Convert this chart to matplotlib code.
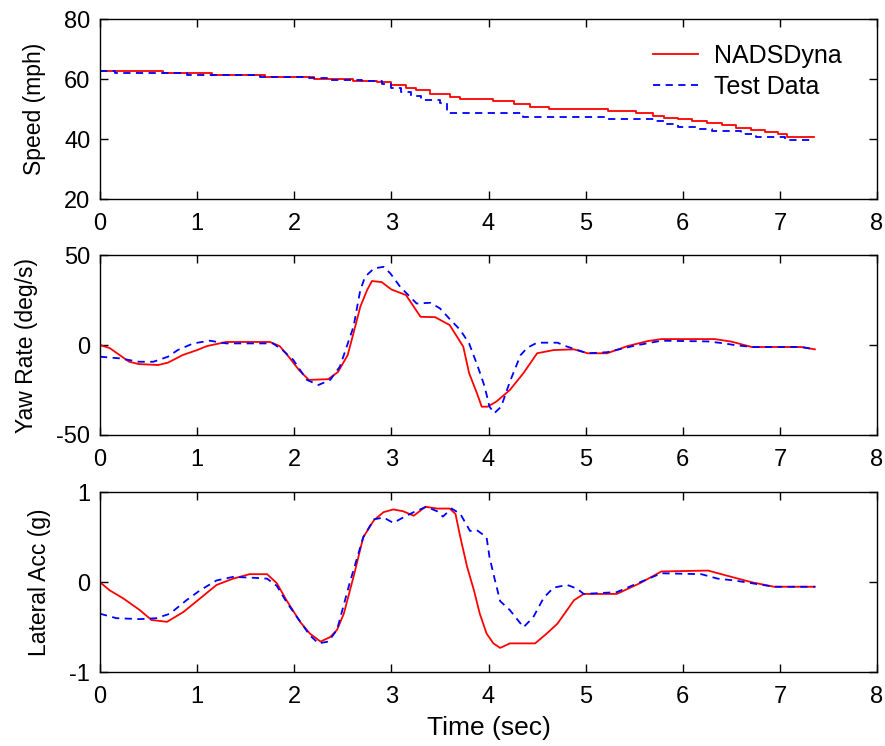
import matplotlib
matplotlib.use("Agg")
import matplotlib.pyplot as plt

plt.rcParams['font.family'] = ['Liberation Sans', 'DejaVu Sans']
plt.rcParams['axes.unicode_minus'] = False

# Speed (mph), step-like traces
spd_t_sim = [0, 0.65, 1.15, 1.7, 2.2, 2.6, 2.85, 3.0, 3.15, 3.25, 3.4, 3.6, 3.71, 4.05,
             4.26, 4.43, 4.62, 5.23, 5.52, 5.69, 5.81, 5.95, 6.1, 6.25, 6.4, 6.55, 6.7,
             6.85, 6.98, 7.07, 7.35]
spd_sim = [62.8, 62.1, 61.4, 60.8, 60.0, 59.6, 59.1, 58.2, 57.2, 56.3, 55.2, 54.1, 53.3, 52.8,
           51.9, 50.8, 50.0, 49.3, 48.6, 47.9, 47.2, 46.6, 46.0, 45.3, 44.6, 43.9, 43.2,
           42.5, 41.8, 40.7, 40.7]
spd_t_test = [0, 0.15, 0.6, 0.9, 1.2, 1.65, 2.15, 2.35, 2.7, 2.9, 3.0, 3.1, 3.2, 3.3, 3.5, 3.57,
              4.36, 5.23, 5.71, 5.83, 5.95, 6.15, 6.3, 6.6, 6.75, 7.05, 7.35]
spd_test = [62.7, 62.1, 62.0, 61.5, 61.4, 60.9, 60.5, 59.8, 59.4, 58.5, 57.0, 55.8, 54.5, 53.0, 52.0, 48.8,
            47.4, 46.7, 46.0, 45.2, 44.1, 43.4, 42.8, 41.8, 40.8, 39.7, 39.7]

# Yaw rate (deg/s)
yaw_t_sim = [0, 0.1, 0.3, 0.4, 0.6, 0.7, 0.85, 1.0, 1.1, 1.3, 1.75, 1.85, 1.95, 2.05, 2.15,
             2.35, 2.45, 2.55, 2.6, 2.68, 2.75, 2.8, 2.9, 3.0, 3.15, 3.3, 3.45, 3.6, 3.74,
             3.8, 3.88, 3.93, 3.99, 4.08, 4.22, 4.36, 4.5, 4.67, 4.88, 5.02, 5.22, 5.43,
             5.64, 5.78, 6.33, 6.5, 6.71, 7.22, 7.36]
yaw_sim = [0, -1.7, -9.3, -10.6, -11.1, -9.8, -5.6, -2.8, -0.6, 1.7, 1.7, -0.6, -7, -14, -19.4,
           -19, -15, -5.6, 4.6, 21.3, 30.6, 35.6, 35, 30.9, 27.8, 15.7, 15.5, 11.1, -0.9,
           -15.6, -26.7, -34.3, -34.3, -31.5, -25, -15.6, -4.6, -2.8, -2.4, -4.6, -4.6, -0.6,
           2.2, 3.3, 3.3, 1.9, -1.1, -1.1, -2.4]
yaw_t_test = [0, 0.2, 0.4, 0.55, 0.7, 0.8, 0.96, 1.13, 1.3, 1.78, 1.88, 1.99, 2.13, 2.25, 2.37,
              2.47, 2.54, 2.61, 2.68, 2.73, 2.82, 2.92, 2.99, 3.09, 3.26, 3.4, 3.5, 3.61, 3.71,
              3.8, 3.89, 3.96, 4.01, 4.06, 4.13, 4.22, 4.33, 4.4, 4.5, 4.71, 4.81, 5.02, 5.22,
              5.36, 5.5, 5.78, 6.26, 6.43, 6.53, 6.71, 7.22, 7.36]
yaw_test = [-6.5, -7.4, -9.3, -9.3, -6.5, -2.8, 0.9, 2.4, 0.9, 0.9, -2.8, -8.3, -19.4, -22.2, -19.4,
            -12, -0.9, 10.2, 30.6, 38, 42.6, 43.5, 39.8, 32.4, 23.1, 23.5, 20.4, 13.9, 8.3,
            0.9, -12, -23.1, -34.3, -37.9, -34.3, -20.4, -5.6, -1.5, 1.3, 1.3, -0.9, -4.6, -4.0,
            -2.2, -0.4, 2.4, 2.0, 0.9, 0.0, -1.1, -1.1, -2.4]

# Lateral acceleration (g)
lat_t_sim = [0, 0.1, 0.24, 0.41, 0.53, 0.69, 0.86, 1.03, 1.2, 1.37, 1.54, 1.72, 1.82, 1.92,
             2.06, 2.16, 2.27, 2.37, 2.44, 2.51, 2.61, 2.71, 2.82, 2.92, 3.02, 3.12, 3.23,
             3.35, 3.47, 3.6, 3.66, 3.71, 3.78, 3.85, 3.91, 3.98, 4.05, 4.12, 4.22, 4.48,
             4.6, 4.71, 4.88, 4.98, 5.32, 5.56, 5.78, 6.26, 6.5, 6.71, 6.94, 7.36]
lat_sim = [0.0, -0.09, -0.18, -0.31, -0.42, -0.44, -0.33, -0.18, -0.03, 0.04, 0.09, 0.09, -0.01, -0.2,
           -0.44, -0.57, -0.66, -0.61, -0.53, -0.35, 0.06, 0.5, 0.69, 0.78, 0.81, 0.79, 0.74,
           0.84, 0.82, 0.82, 0.76, 0.5, 0.17, -0.09, -0.35, -0.57, -0.68, -0.73, -0.68, -0.68,
           -0.57, -0.46, -0.2, -0.13, -0.13, -0.01, 0.12, 0.13, 0.06, 0.0, -0.05, -0.05]
lat_t_test = [0, 0.17, 0.41, 0.58, 0.72, 0.89, 1.03, 1.2, 1.37, 1.58, 1.72, 1.82, 1.92, 2.03,
              2.16, 2.25, 2.35, 2.44, 2.57, 2.71, 2.82, 2.92, 3.02, 3.12, 3.23, 3.36, 3.47,
              3.53, 3.62, 3.71, 3.81, 3.88, 3.98, 4.01, 4.06, 4.12, 4.22, 4.36, 4.46, 4.57,
              4.67, 4.81, 4.91, 4.98, 5.32, 5.56, 5.78, 6.19, 6.36, 6.53, 6.94, 7.36]
lat_test = [-0.35, -0.4, -0.41, -0.4, -0.35, -0.2, -0.09, 0.02, 0.06, 0.05, 0.04, -0.04, -0.22, -0.39,
            -0.59, -0.68, -0.66, -0.53, -0.01, 0.5, 0.7, 0.72, 0.66, 0.72, 0.78, 0.84, 0.79,
            0.73, 0.82, 0.76, 0.57, 0.58, 0.5, 0.28, 0.05, -0.21, -0.31, -0.5, -0.39, -0.17,
            -0.06, -0.03, -0.07, -0.13, -0.11, 0.0, 0.1, 0.09, 0.04, 0.02, -0.05, -0.05]

red = "#ff0000"
blue = "#0000ff"
dash = (0, (4, 3))

fig = plt.figure(figsize=(8.85, 7.46), dpi=100)
ax1 = fig.add_axes([0.113, 0.733, 0.878, 0.241])
ax2 = fig.add_axes([0.113, 0.417, 0.878, 0.241])
ax3 = fig.add_axes([0.113, 0.099, 0.878, 0.241])

ax1.plot(spd_t_sim, spd_sim, color=red, lw=1.3, drawstyle="steps-post", label="NADSDyna")
ax1.plot(spd_t_test, spd_test, color=blue, lw=1.3, ls=dash, drawstyle="steps-post", label="Test Data")
ax1.set_ylim(20, 80)
ax1.set_yticks([20, 40, 60, 80])
ax1.set_ylabel("Speed (mph)", fontsize=16.5, labelpad=13)
ax1.legend(loc="upper right", frameon=False, fontsize=18, handlelength=1.8, handletextpad=0.65,
           labelspacing=0.3, borderpad=0, borderaxespad=0, bbox_to_anchor=(0.955, 0.865))

ax2.plot(yaw_t_sim, yaw_sim, color=red, lw=1.3)
ax2.plot(yaw_t_test, yaw_test, color=blue, lw=1.3, ls=dash)
ax2.set_ylim(-50, 50)
ax2.set_yticks([-50, 0, 50])
ax2.set_ylabel("Yaw Rate (deg/s)", fontsize=16.5, labelpad=13)

ax3.plot(lat_t_sim, lat_sim, color=red, lw=1.3)
ax3.plot(lat_t_test, lat_test, color=blue, lw=1.3, ls=dash)
ax3.set_ylim(-1, 1)
ax3.set_yticks([-1, 0, 1])
ax3.set_ylabel("Lateral Acc (g)", fontsize=16.5, labelpad=13)
ax3.set_xlabel("Time (sec)", fontsize=19, labelpad=6)

for ax in (ax1, ax2, ax3):
    ax.set_xlim(0, 8)
    ax.set_xticks(range(9))
    ax.tick_params(direction="in", top=True, right=True, length=6, labelsize=17, width=1)
    ax.tick_params(axis="x", pad=10)
    ax.tick_params(axis="y", pad=7)
    for s in ax.spines.values():
        s.set_linewidth(1)

fig.savefig("out.png", dpi=100, facecolor="white")
